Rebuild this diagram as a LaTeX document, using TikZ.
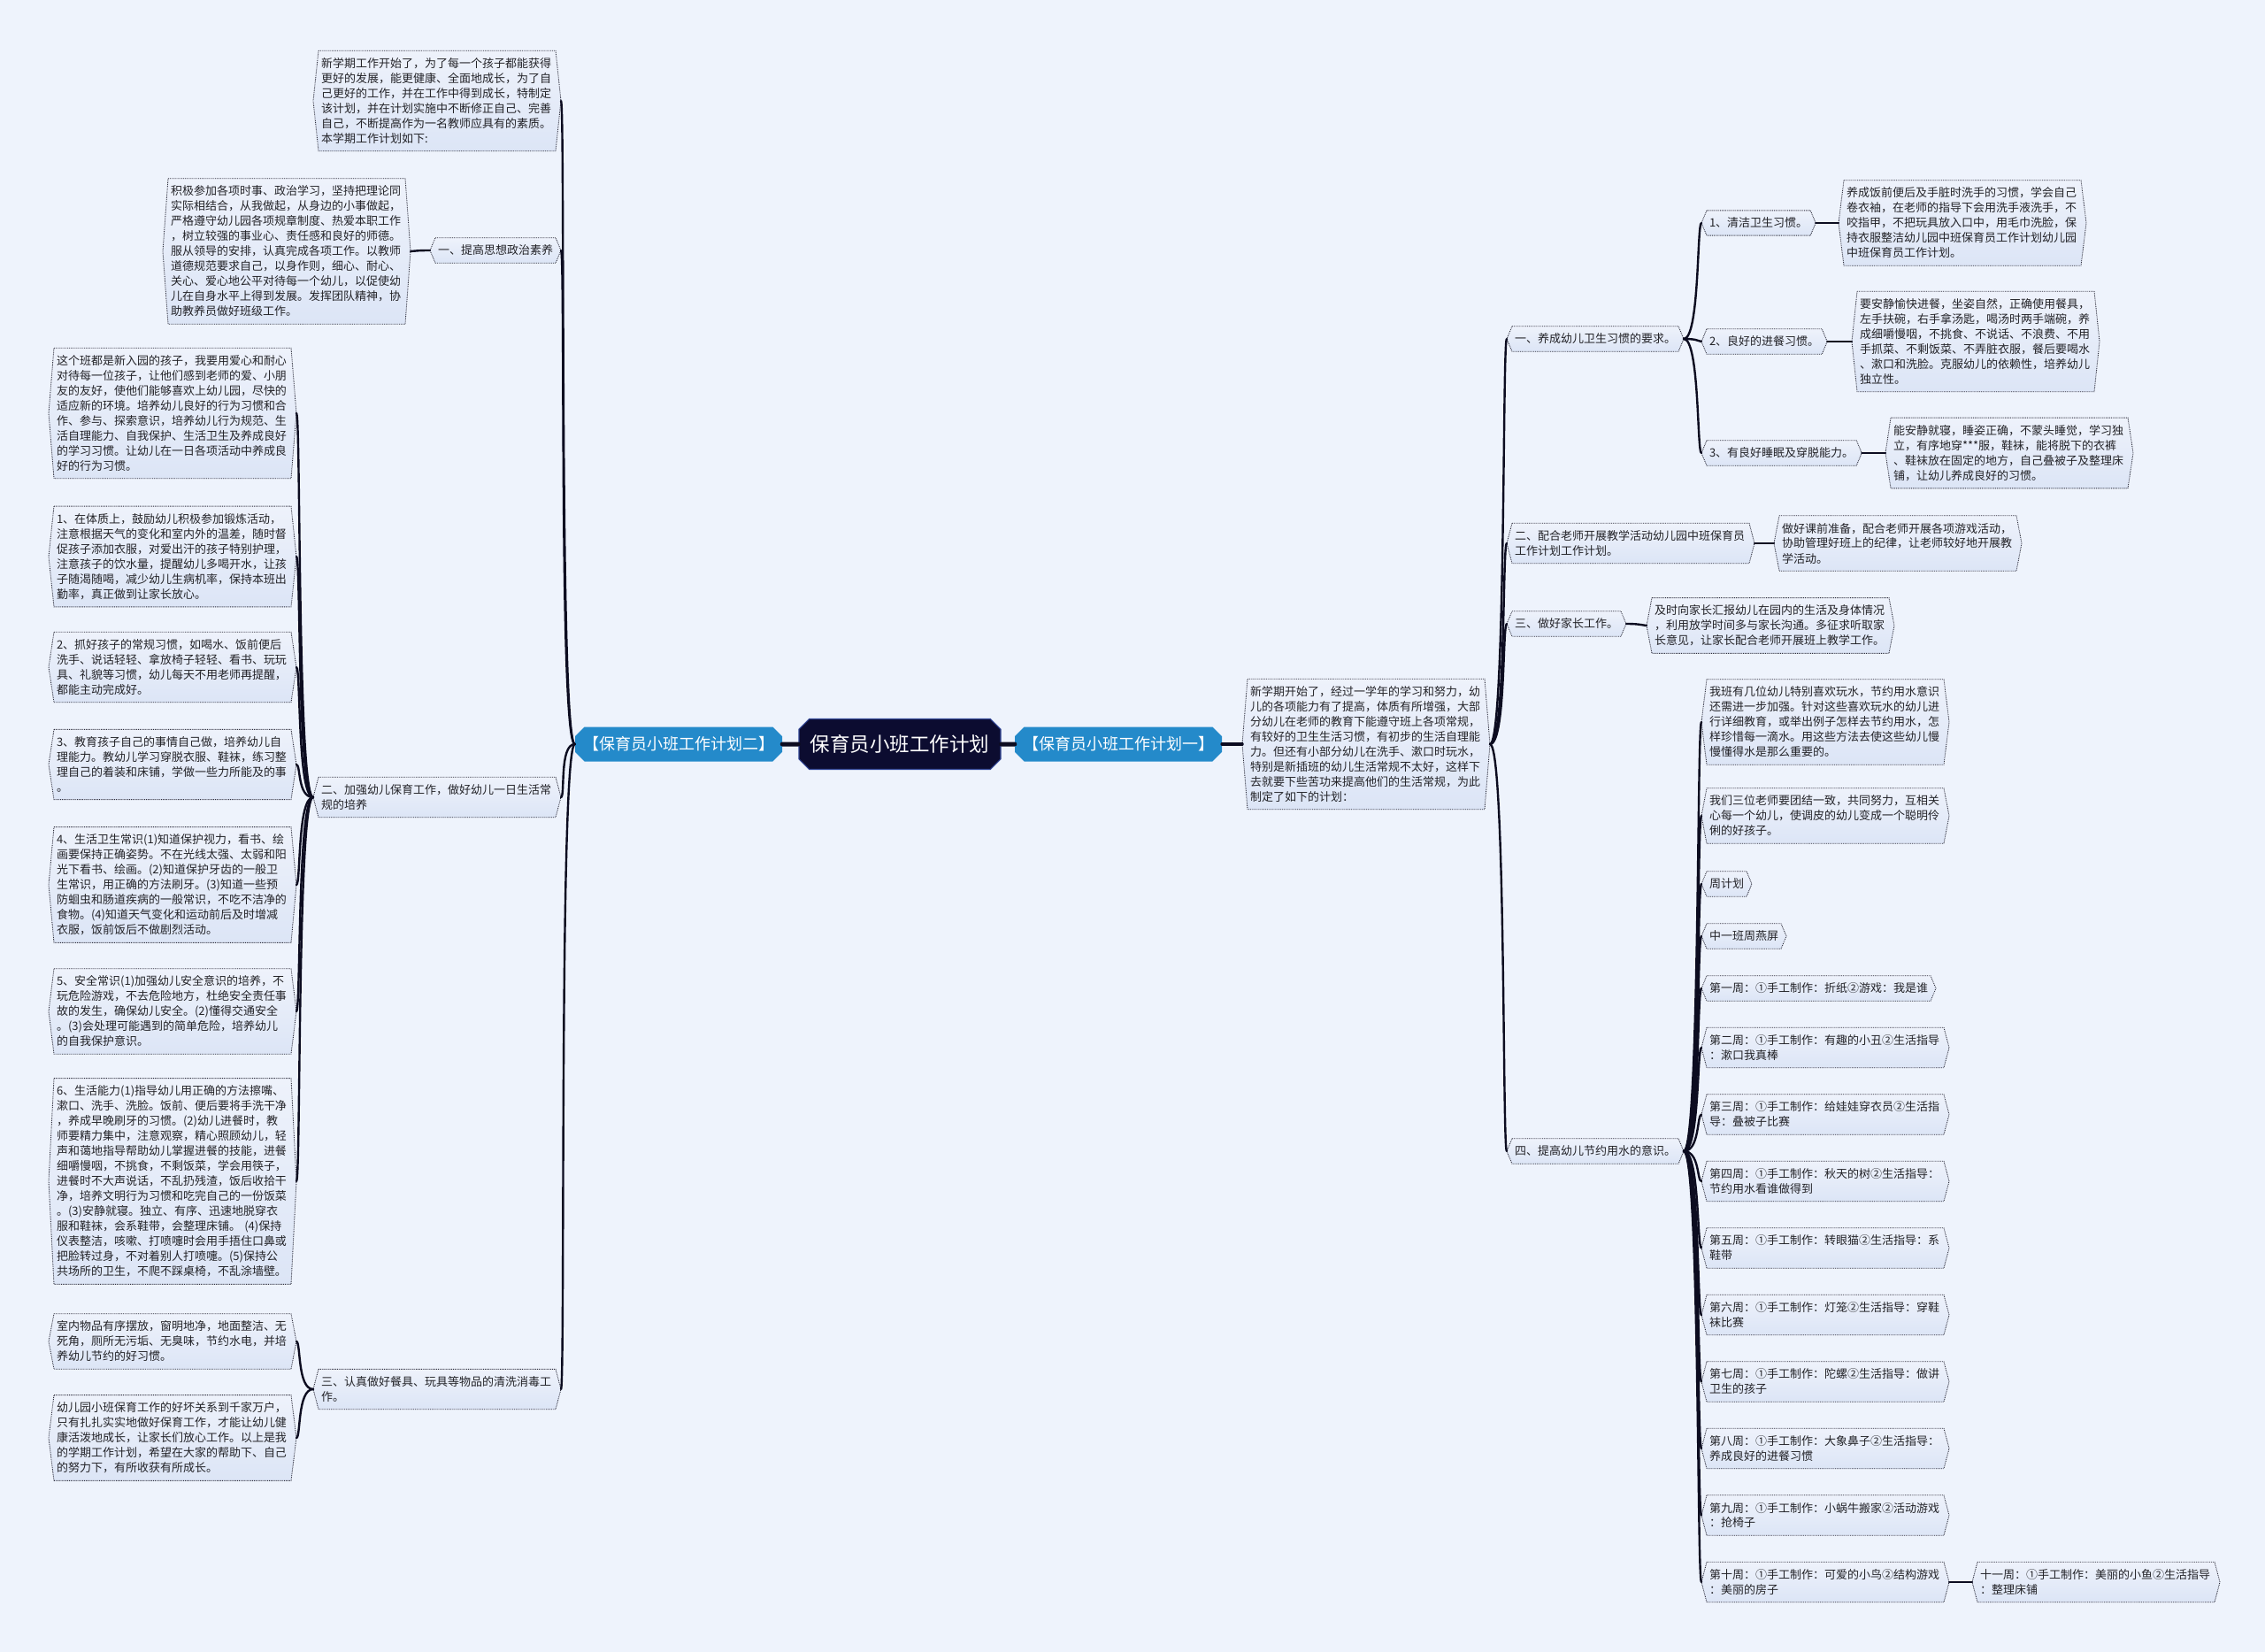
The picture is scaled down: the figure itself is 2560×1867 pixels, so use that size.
\documentclass[tikz,border=0pt]{standalone}
\usepackage{fontspec}
\setmainfont{Noto Sans CJK SC}
\usetikzlibrary{shapes.misc}
\definecolor{pagebg}{RGB}{238,243,252}
\definecolor{boxtop}{RGB}{238,242,251}
\definecolor{boxbot}{RGB}{220,229,246}
\definecolor{boxline}{RGB}{45,45,60}
\definecolor{txtcol}{RGB}{35,35,40}
\definecolor{linkcol}{RGB}{12,12,32}
\definecolor{rootcol}{RGB}{12,12,48}
\definecolor{rootline}{RGB}{50,70,150}
\definecolor{branchcol}{RGB}{36,138,202}
\pgfdeclarelayer{bg}
\pgfdeclarelayer{boxes}
\pgfsetlayers{bg,boxes,main}

\begin{document}
\begin{tikzpicture}[x=1pt, y=-1pt,
  leaf/.style={font=\fontsize{13}{17}\selectfont, align=left, text=txtcol, inner xsep=3pt, inner ysep=8pt, outer xsep=6pt},
  para/.style={leaf, text width=262pt},
  rootnode/.style={chamfered rectangle, chamfered rectangle xsep=8pt, fill=rootcol, draw=rootline, line width=1.2pt, text=white, font=\fontsize{22.5}{26}\selectfont, minimum width=228pt, minimum height=57pt, inner sep=2pt},
  branchnode/.style={chamfered rectangle, chamfered rectangle xsep=7pt, fill=branchcol, text=white, font=\fontsize{18}{21}\selectfont, minimum width=219pt, minimum height=39pt, inner sep=2pt},
  link/.style={draw=linkcol, line width=2.4pt, line cap=round},
  trunk/.style={draw=linkcol, line width=5pt, line cap=round},
  hexbox/.style={draw=boxline, densely dotted, line width=0.9pt, top color=boxtop, bottom color=boxbot}]
\useasboundingbox (0,0) rectangle (2560,1867);
\begin{pgfonlayer}{bg}
  \fill[pagebg] (0,0) rectangle (2560,1867);
\end{pgfonlayer}

% 中心主题
\node[rootnode] (root) at (1017,841) {保育员小班工作计划};
\node[branchnode] (b2) at (767,841) {【保育员小班工作计划二】};
\node[branchnode] (b1) at (1264,841) {【保育员小班工作计划一】};

% 左侧：计划二
\node[para, anchor=east] (top) at (634,114) {新学期工作开始了，为了每一个孩子都能获得\\更好的发展，能更健康、全面地成长，为了自\\己更好的工作，并在工作中得到成长，特制定\\该计划，并在计划实施中不断修正自己、完善\\自己，不断提高作为一名教师应具有的素质。\\本学期工作计划如下:};
\node[leaf, anchor=east] (l1) at (634,283) {一、提高思想政治素养};
\node[para, anchor=east] (l1a) at (464,284) {积极参加各项时事、政治学习，坚持把理论同\\实际相结合，从我做起，从身边的小事做起，\\严格遵守幼儿园各项规章制度、热爱本职工作\\，树立较强的事业心、责任感和良好的师德。\\服从领导的安排，认真完成各项工作。以教师\\道德规范要求自己，以身作则，细心、耐心、\\关心、爱心地公平对待每一个幼儿，以促使幼\\儿在自身水平上得到发展。发挥团队精神，协\\助教养员做好班级工作。};
\node[para, anchor=east] (l2) at (634,901) {二、加强幼儿保育工作，做好幼儿一日生活常\\规的培养};
\node[para, anchor=east] (l2a) at (335,467) {这个班都是新入园的孩子，我要用爱心和耐心\\对待每一位孩子，让他们感到老师的爱、小朋\\友的友好，使他们能够喜欢上幼儿园，尽快的\\适应新的环境。培养幼儿良好的行为习惯和合\\作、参与、探索意识，培养幼儿行为规范、生\\活自理能力、自我保护、生活卫生及养成良好\\的学习习惯。让幼儿在一日各项活动中养成良\\好的行为习惯。};
\node[para, anchor=east] (l2b) at (335,629) {1、在体质上，鼓励幼儿积极参加锻炼活动，\\注意根据天气的变化和室内外的温差，随时督\\促孩子添加衣服，对爱出汗的孩子特别护理，\\注意孩子的饮水量，提醒幼儿多喝开水，让孩\\子随渴随喝，减少幼儿生病机率，保持本班出\\勤率，真正做到让家长放心。};
\node[para, anchor=east] (l2c) at (335,754) {2、抓好孩子的常规习惯，如喝水、饭前便后\\洗手、说话轻轻、拿放椅子轻轻、看书、玩玩\\具、礼貌等习惯，幼儿每天不用老师再提醒，\\都能主动完成好。};
\node[para, anchor=east] (l2d) at (335,864) {3、教育孩子自己的事情自己做，培养幼儿自\\理能力。教幼儿学习穿脱衣服、鞋袜，练习整\\理自己的着装和床铺，学做一些力所能及的事\\。};
\node[para, anchor=east] (l2e) at (335,1000) {4、生活卫生常识(1)知道保护视力，看书、绘\\画要保持正确姿势。不在光线太强、太弱和阳\\光下看书、绘画。(2)知道保护牙齿的一般卫\\生常识，用正确的方法刷牙。(3)知道一些预\\防蛔虫和肠道疾病的一般常识，不吃不洁净的\\食物。(4)知道天气变化和运动前后及时增减\\衣服，饭前饭后不做剧烈活动。};
\node[para, anchor=east] (l2f) at (335,1143) {5、安全常识(1)加强幼儿安全意识的培养，不\\玩危险游戏，不去危险地方，杜绝安全责任事\\故的发生，确保幼儿安全。(2)懂得交通安全\\。(3)会处理可能遇到的简单危险，培养幼儿\\的自我保护意识。};
\node[para, anchor=east] (l2g) at (335,1335) {6、生活能力(1)指导幼儿用正确的方法擦嘴、\\漱口、洗手、洗脸。饭前、便后要将手洗干净\\，养成早晚刷牙的习惯。(2)幼儿进餐时，教\\师要精力集中，注意观察，精心照顾幼儿，轻\\声和蔼地指导帮助幼儿掌握进餐的技能，进餐\\细嚼慢咽，不挑食，不剩饭菜，学会用筷子，\\进餐时不大声说话，不乱扔残渣，饭后收拾干\\净，培养文明行为习惯和吃完自己的一份饭菜\\。(3)安静就寝。独立、有序、迅速地脱穿衣\\服和鞋袜，会系鞋带，会整理床铺。~(4)保持\\仪表整洁，咳嗽、打喷嚏时会用手捂住口鼻或\\把脸转过身，不对着别人打喷嚏。(5)保持公\\共场所的卫生，不爬不踩桌椅，不乱涂墙壁。};
\node[para, anchor=east] (l3) at (634,1570) {三、认真做好餐具、玩具等物品的清洗消毒工\\作。};
\node[para, anchor=east] (l3a) at (335,1516) {室内物品有序摆放，窗明地净，地面整洁、无\\死角，厕所无污垢、无臭味，节约水电，并培\\养幼儿节约的好习惯。};
\node[para, anchor=east] (l3b) at (335,1625) {幼儿园小班保育工作的好坏关系到千家万户，\\只有扎扎实实地做好保育工作，才能让幼儿健\\康活泼地成长，让家长们放心工作。以上是我\\的学期工作计划，希望在大家的帮助下、自己\\的努力下，有所收获有所成长。};

% 右侧：计划一
\node[para, anchor=west] (r0) at (1404,841) {新学期开始了，经过一学年的学习和努力，幼\\儿的各项能力有了提高，体质有所增强，大部\\分幼儿在老师的教育下能遵守班上各项常规，\\有较好的卫生生活习惯，有初步的生活自理能\\力。但还有小部分幼儿在洗手、漱口时玩水，\\特别是新插班的幼儿生活常规不太好，这样下\\去就要下些苦功来提高他们的生活常规，为此\\制定了如下的计划：};
\node[leaf, anchor=west] (r1) at (1703,383) {一、养成幼儿卫生习惯的要求。};
\node[leaf, anchor=west] (r1a) at (1923,252) {1、清洁卫生习惯。};
\node[para, anchor=west] (r1a1) at (2078,252) {养成饭前便后及手脏时洗手的习惯，学会自己\\卷衣袖，在老师的指导下会用洗手液洗手，不\\咬指甲，不把玩具放入口中，用毛巾洗脸，保\\持衣服整洁幼儿园中班保育员工作计划幼儿园\\中班保育员工作计划。};
\node[leaf, anchor=west] (r1b) at (1923,386) {2、良好的进餐习惯。};
\node[para, anchor=west] (r1b1) at (2093,386) {要安静愉快进餐，坐姿自然，正确使用餐具，\\左手扶碗，右手拿汤匙，喝汤时两手端碗，养\\成细嚼慢咽，不挑食、不说话、不浪费、不用\\手抓菜、不剩饭菜、不弄脏衣服，餐后要喝水\\、漱口和洗脸。克服幼儿的依赖性，培养幼儿\\独立性。};
\node[leaf, anchor=west] (r1c) at (1923,512) {3、有良好睡眠及穿脱能力。};
\node[para, anchor=west] (r1c1) at (2131,512) {能安静就寝，睡姿正确，不蒙头睡觉，学习独\\立，有序地穿***服，鞋袜，能将脱下的衣裤\\、鞋袜放在固定的地方，自己叠被子及整理床\\铺，让幼儿养成良好的习惯。};
\node[para, anchor=west] (r2) at (1703,614) {二、配合老师开展教学活动幼儿园中班保育员\\工作计划工作计划。};
\node[para, anchor=west] (r2a) at (2005,614) {做好课前准备，配合老师开展各项游戏活动，\\协助管理好班上的纪律，让老师较好地开展教\\学活动。};
\node[leaf, anchor=west] (r3) at (1703,705) {三、做好家长工作。};
\node[para, anchor=west] (r3a) at (1861,707) {及时向家长汇报幼儿在园内的生活及身体情况\\，利用放学时间多与家长沟通。多征求听取家\\长意见，让家长配合老师开展班上教学工作。};
\node[leaf, anchor=west] (r4) at (1703,1301) {四、提高幼儿节约用水的意识。};

% 节约用水与周计划
\node[para, anchor=west] (w1) at (1923,816) {我班有几位幼儿特别喜欢玩水，节约用水意识\\还需进一步加强。针对这些喜欢玩水的幼儿进\\行详细教育，或举出例子怎样去节约用水，怎\\样珍惜每一滴水。用这些方法去使这些幼儿慢\\慢懂得水是那么重要的。};
\node[para, anchor=west] (w2) at (1923,922) {我们三位老师要团结一致，共同努力，互相关\\心每一个幼儿，使调皮的幼儿变成一个聪明伶\\俐的好孩子。};
\node[leaf, anchor=west] (w3) at (1923,999) {周计划};
\node[leaf, anchor=west] (w4) at (1923,1058) {中一班周燕屏};
\node[leaf, anchor=west] (w5) at (1923,1117) {第一周：①手工制作：折纸②游戏：我是谁};
\node[para, anchor=west] (w6) at (1923,1184) {第二周：①手工制作：有趣的小丑②生活指导\\：漱口我真棒};
\node[para, anchor=west] (w7) at (1923,1259.5) {第三周：①手工制作：给娃娃穿衣员②生活指\\导：叠被子比赛};
\node[para, anchor=west] (w8) at (1923,1335) {第四周：①手工制作：秋天的树②生活指导：\\节约用水看谁做得到};
\node[para, anchor=west] (w9) at (1923,1410.5) {第五周：①手工制作：转眼猫②生活指导：系\\鞋带};
\node[para, anchor=west] (w10) at (1923,1486) {第六周：①手工制作：灯笼②生活指导：穿鞋\\袜比赛};
\node[para, anchor=west] (w11) at (1923,1561.5) {第七周：①手工制作：陀螺②生活指导：做讲\\卫生的孩子};
\node[para, anchor=west] (w12) at (1923,1637) {第八周：①手工制作：大象鼻子②生活指导：\\养成良好的进餐习惯};
\node[para, anchor=west] (w13) at (1923,1712.5) {第九周：①手工制作：小蜗牛搬家②活动游戏\\：抢椅子};
\node[para, anchor=west] (w14) at (1923,1788) {第十周：①手工制作：可爱的小鸟②结构游戏\\：美丽的房子};
\node[para, anchor=west] (w15) at (2229,1788) {十一周：①手工制作：美丽的小鱼②生活指导\\：整理床铺};

% 六边形框
\begin{pgfonlayer}{boxes}
\foreach \n in {top,l1,l1a,l2,l2a,l2b,l2c,l2d,l2e,l2f,l2g,l3,l3a,l3b,r0,r1,r1a,r1a1,r1b,r1b1,r1c,r1c1,r2,r2a,r3,r3a,r4,w1,w2,w3,w4,w5,w6,w7,w8,w9,w10,w11,w12,w13,w14,w15}
  \draw[hexbox] ([xshift=6pt]\n.north west) -- ([xshift=-6pt]\n.north east) -- (\n.east)
    -- ([xshift=-6pt]\n.south east) -- ([xshift=6pt]\n.south west) -- (\n.west) -- cycle;
\end{pgfonlayer}

% 连线
\draw[trunk] (b2) -- (root);
\draw[trunk] (root) -- (b1);
\draw[link, line width=3.5pt] (b1.east) -- (r0.west);
\foreach \a/\b in {b2/top,b2/l1,b2/l2,b2/l3,l1/l1a,l2/l2a,l2/l2b,l2/l2c,l2/l2d,l2/l2e,l2/l2f,l2/l2g,l3/l3a,l3/l3b}
  \draw[link] (\a.west) .. controls +(-18,0) and +(5,0) .. (\b.east);
\foreach \a/\b in {r0/r1,r0/r2,r0/r3,r0/r4,r1/r1a,r1/r1b,r1/r1c,r1a/r1a1,r1b/r1b1,r1c/r1c1,r2/r2a,r3/r3a,r4/w1,r4/w2,r4/w3,r4/w4,r4/w5,r4/w6,r4/w7,r4/w8,r4/w9,r4/w10,r4/w11,r4/w12,r4/w13,r4/w14,w14/w15}
  \draw[link] (\a.east) .. controls +(18,0) and +(-5,0) .. (\b.west);
\end{tikzpicture}
\end{document}
